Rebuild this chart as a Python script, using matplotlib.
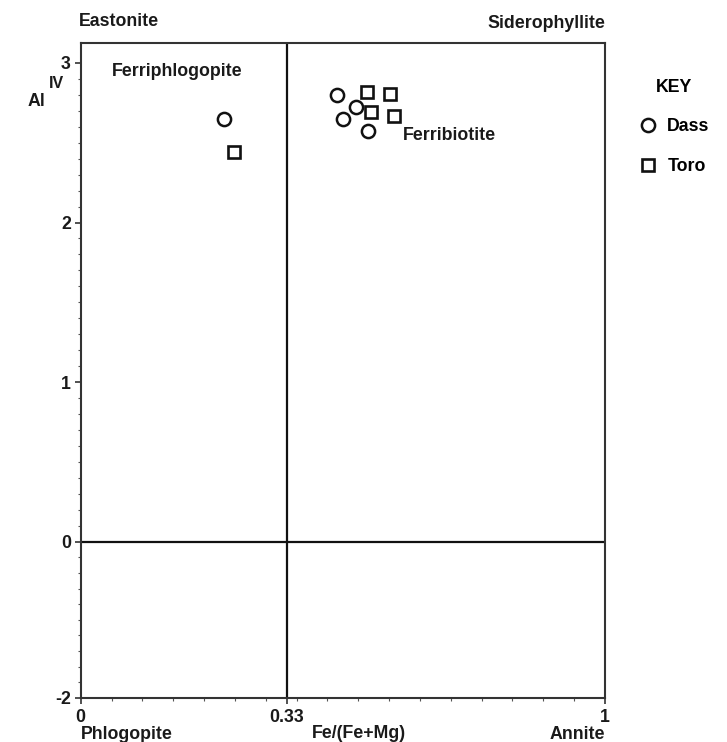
import numpy as np
import matplotlib
matplotlib.use("Agg")
import matplotlib.pyplot as plt

plt.rcParams['font.family'] = ['Liberation Sans', 'DejaVu Sans']
plt.rcParams['font.weight'] = 'bold'

# Fe/(Fe+Mg) vs Al(IV) for the two biotite suites
dass_x = [0.230, 0.435, 0.476, 0.449, 0.501]
dass_y = [2.646, 2.797, 2.724, 2.649, 2.574]
toro_x = [0.245, 0.498, 0.546, 0.507, 0.556]
toro_y = [2.442, 2.820, 2.806, 2.690, 2.668]

x_ticks = [0, 0.33, 1]
x_tick_labels = ['0', '0.33', '1']
y_ticks = [-2, 0, 1, 2, 3]
divider_x = 0.33
divider_y = 0

TXT = '#1a1a1a'
FS = 12.8
W, H = 727, 742

# the diagram is not drawn to a linear scale: 0-0.33 gets a wider share,
# and the negative half of the Al axis is squeezed
XB = 0.3935


def x_fwd(x):
    x = np.asarray(x, dtype=float)
    return np.where(x < 0.33, x * XB / 0.33, XB + (x - 0.33) * (1 - XB) / 0.67)


def x_inv(u):
    u = np.asarray(u, dtype=float)
    return np.where(u < XB, u * 0.33 / XB, 0.33 + (u - XB) * 0.67 / (1 - XB))


YS = 0.49


def y_fwd(y):
    y = np.asarray(y, dtype=float)
    return np.where(y < 0, y * YS, y)


def y_inv(v):
    v = np.asarray(v, dtype=float)
    return np.where(v < 0, v / YS, v)


def px(x, y):
    # pixel position (from top-left) -> figure fraction
    return x / W, 1 - y / H


fig = plt.figure(figsize=(W / 100, H / 100), dpi=100)
ax = fig.add_axes([0.111, 0.0593, 0.7212, 0.8827])
ax.set_xscale('function', functions=(x_fwd, x_inv))
ax.set_yscale('function', functions=(y_fwd, y_inv))
ax.set_xlim(0, 1)
ax.set_ylim(-2, 3.125)

ax.axvline(divider_x, color='#111111', lw=1.6, zorder=1)
ax.axhline(divider_y, color='#111111', lw=1.6, zorder=1)

ax.plot(dass_x, dass_y, 'o', ms=9.5, mfc='white', mec='#111111', mew=1.8,
        ls='none', label='Dass', zorder=3)
ax.plot(toro_x, toro_y, 's', ms=8, mfc='white', mec='#111111', mew=1.9,
        ls='none', label='Toro', zorder=3)

for sp in ax.spines.values():
    sp.set_color('#333333')
    sp.set_linewidth(1.5)

ax.set_xticks(x_ticks)
ax.set_xticklabels(x_tick_labels)
ax.set_yticks(y_ticks)
ax.set_yticklabels([str(v) for v in y_ticks])
ax.xaxis.set_minor_locator(matplotlib.ticker.FixedLocator(x_inv(np.arange(1, 17) / 17)))
minor_y = [v for v in np.round(np.arange(-1.8, 3.01, 0.1), 2)
           if v not in y_ticks and (v > 0 or abs(v * 5 - round(v * 5)) < 1e-6)]
ax.yaxis.set_minor_locator(matplotlib.ticker.FixedLocator(minor_y))
ax.tick_params(which='major', direction='out', length=4, width=1.2, color='#333333',
               labelsize=FS, labelcolor=TXT, pad=4)
ax.tick_params(axis='y', which='major', pad=3)
ax.tick_params(which='minor', direction='out', length=2, width=0.8, color='#555555')
for lab in ax.get_xticklabels() + ax.get_yticklabels():
    lab.set_fontweight('bold')

# corner end-members and field names
fig.text(*px(79, 22), 'Eastonite', ha='left', va='center', fontsize=FS, color=TXT)
fig.text(*px(605, 24), 'Siderophyllite', ha='right', va='center', fontsize=FS, color=TXT)
fig.text(*px(112, 72), 'Ferriphlogopite', ha='left', va='center', fontsize=FS, color=TXT)
fig.text(*px(403, 136), 'Ferribiotite', ha='left', va='center', fontsize=FS, color=TXT)
fig.text(*px(81, 726), 'Phlogopite', ha='left', va='top', fontsize=FS, color=TXT)
fig.text(*px(359, 742), 'Fe/(Fe+Mg)', ha='center', va='bottom', fontsize=FS, color=TXT)
fig.text(*px(605, 726), 'Annite', ha='right', va='top', fontsize=FS, color=TXT)

# axis title Al(IV)
fig.text(*px(28, 101), 'Al', ha='left', va='center', fontsize=FS, color=TXT)
fig.text(*px(49, 84), 'IV', ha='left', va='center', fontsize=11.5, color=TXT)

leg = ax.legend(loc='upper left', bbox_to_anchor=px(630, 70),
                bbox_transform=fig.transFigure, frameon=False, title='KEY',
                prop={'weight': 'bold', 'size': FS}, handlelength=1.0,
                handletextpad=0.6, labelspacing=1.3, borderpad=0)
leg.get_title().set_fontweight('bold')
leg.get_title().set_fontsize(FS)
leg._legend_box.sep = 16

fig.savefig('out.png', dpi=100, facecolor='white')
